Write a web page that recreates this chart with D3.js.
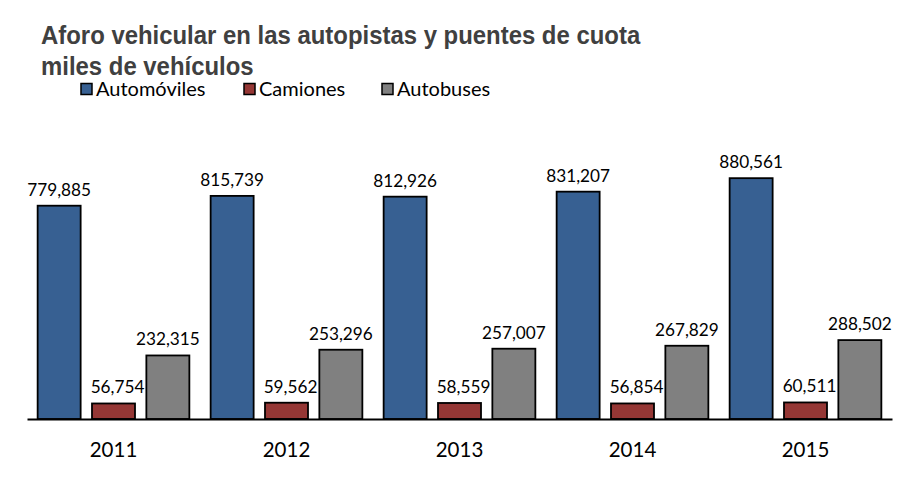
<!DOCTYPE html>
<html>
<head>
<meta charset="utf-8">
<script src="https://cdn.jsdelivr.net/npm/d3@7"></script>
<style>
  body { margin: 0; background: #fff; }
  svg { display: block; }
</style>
</head>
<body>
<div id="chart"></div>
<script>

const FRAME_WIDTH = 919;
const FRAME_HEIGHT = 481;

// data
const YEARS = ["2011", "2012", "2013", "2014", "2015"];
const SERIES = ["Automóviles", "Camiones", "Autobuses"];
const AUTOMOVILES = [779885, 815739, 812926, 831207, 880561];
const CAMIONES = [56754, 59562, 58559, 56854, 60511];
const AUTOBUSES = [232315, 253296, 257007, 267829, 288502];
const COLORS = ["#376092", "#953735", "#808080"];

const VALUES = [AUTOMOVILES, CAMIONES, AUTOBUSES];
const LABEL_FONT = "Lato, 'Open Sans', sans-serif";

const FRAME = d3.select("#chart")
                .append("svg")
                  .attr("width", FRAME_WIDTH)
                  .attr("height", FRAME_HEIGHT);

// title (no narrow font installed, so squeeze a bold one)
const TITLE = FRAME.append("g")
                   .attr("transform", "translate(41,0) scale(0.92,1)")
                   .append("text")
                   .attr("font-family", "'Liberation Sans', Arial, sans-serif")
                   .attr("font-weight", "bold")
                   .attr("font-size", 26)
                   .attr("fill", "#404040");
TITLE.append("tspan").attr("x", 0).attr("y", 44).text("Aforo vehicular en las autopistas y puentes de cuota");
TITLE.append("tspan").attr("x", 0).attr("y", 75.5).text("miles de vehículos");

// scales
const X_SCALE = d3.scaleBand()
                  .domain(YEARS)
                  .range([27, 892])
                  .paddingInner(0.123)
                  .paddingOuter(0.0615);

const X_INNER = d3.scaleBand()
                  .domain(SERIES)
                  .range([0, X_SCALE.bandwidth()])
                  .paddingInner(0.209);

const Y_SCALE = d3.scaleLinear()
                  .domain([0, 1000000])
                  .range([419, 145.5]);

// bars + labels, series by series (later bars cover earlier labels)
SERIES.forEach((s, i) => {
  const rows = YEARS.map((y, j) => ({year: y, value: VALUES[i][j]}));
  const g = FRAME.append("g");

  g.selectAll("rect")
   .data(rows)
   .enter()
   .append("rect")
     .attr("x", (d) => X_SCALE(d.year) + X_INNER(s))
     .attr("y", (d) => Y_SCALE(d.value))
     .attr("width", X_INNER.bandwidth())
     .attr("height", (d) => Y_SCALE(0) - Y_SCALE(d.value))
     .attr("fill", COLORS[i])
     .attr("stroke", "#000")
     .attr("stroke-width", 1.8);

  g.selectAll("text")
   .data(rows)
   .enter()
   .append("text")
     .attr("x", (d) => X_SCALE(d.year) + X_INNER(s) + X_INNER.bandwidth() / 2 + (i == 1 ? 4 : 0))
     .attr("y", (d) => Y_SCALE(d.value) - 10)
     .attr("text-anchor", "middle")
     .attr("font-family", LABEL_FONT)
     .attr("font-size", 17.2)
     .attr("fill", "#000")
     .text((d) => d3.format(",")(d.value));
});

// x axis
const X_AXIS = FRAME.append("g")
                    .attr("transform", "translate(0," + Y_SCALE(0) + ")")
                    .call(d3.axisBottom(X_SCALE).tickSize(0).tickPadding(23).tickSizeOuter(0));
X_AXIS.select(".domain").attr("stroke", "#000").attr("stroke-width", 2);
X_AXIS.selectAll(".tick text")
      .attr("font-family", LABEL_FONT)
      .attr("font-size", 20.5)
      .attr("fill", "#000");

// legend
const LEGEND_X = [81, 244, 382];
const LEGEND = FRAME.selectAll(".legend")
                    .data(SERIES)
                    .enter()
                    .append("g")
                      .attr("class", "legend")
                      .attr("transform", (d, i) => "translate(" + LEGEND_X[i] + ",83.5)");
LEGEND.append("rect")
      .attr("width", 11)
      .attr("height", 11)
      .attr("fill", (d, i) => COLORS[i])
      .attr("stroke", "#000")
      .attr("stroke-width", 1.5);
LEGEND.append("text")
      .attr("x", 15)
      .attr("y", 12.5)
      .attr("font-family", LABEL_FONT)
      .attr("font-size", 20)
      .attr("fill", "#000")
      .text((d) => d);

</script>
</body>
</html>
